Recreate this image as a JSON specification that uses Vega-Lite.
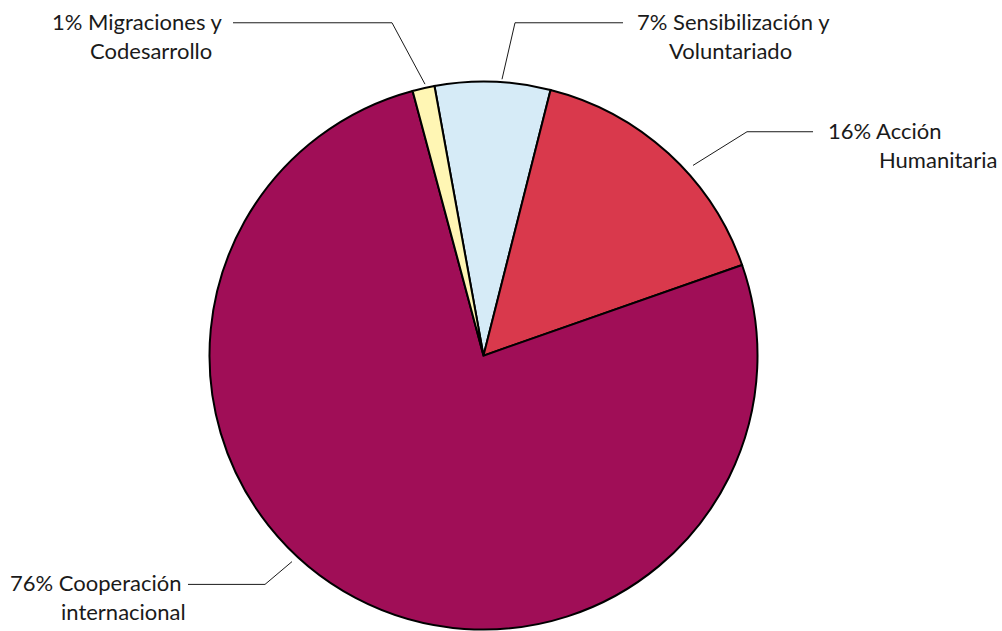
{
  "$schema": "https://vega.github.io/schema/vega-lite/v6.json",
  "width": 1002,
  "height": 631,
  "autosize": {"type": "fit", "contains": "padding"},
  "padding": 0,
  "background": "white",
  "config": {"view": {"stroke": null}},
  "datasets": {
    "slices": [
      {"category": "Sensibilización y Voluntariado", "value": 6.8, "ord": 1},
      {"category": "Acción Humanitaria", "value": 15.7, "ord": 2},
      {"category": "Cooperación internacional", "value": 76.2, "ord": 3},
      {"category": "Migraciones y Codesarrollo", "value": 1.3, "ord": 4}
    ],
    "labels": [
      {"text": "1% Migraciones y", "u": -1.5748, "v": 1.2007},
      {"text": "Codesarrollo", "u": -1.4361, "v": 1.0912},
      {"text": "7% Sensibilización y", "u": 0.5602, "v": 1.2007},
      {"text": "Voluntariado", "u": 0.6770, "v": 1.0912},
      {"text": "16% Acción", "u": 1.2573, "v": 0.7993},
      {"text": "Humanitaria", "u": 1.4434, "v": 0.6898},
      {"text": "76% Cooperación", "u": -1.7281, "v": -0.8686},
      {"text": "internacional", "u": -1.5420, "v": -0.9745}
    ],
    "leaders": [
      {"id": "m", "seq": 1, "u": -0.9142, "v": 1.2263},
      {"id": "m", "seq": 2, "u": -0.3339, "v": 1.2263},
      {"id": "m", "seq": 3, "u": -0.2135, "v": 1.0000},
      {"id": "s", "seq": 1, "u": 0.5091, "v": 1.2263},
      {"id": "s", "seq": 2, "u": 0.1150, "v": 1.2263},
      {"id": "s", "seq": 3, "u": 0.0675, "v": 1.0182},
      {"id": "a", "seq": 1, "u": 1.2026, "v": 0.8248},
      {"id": "a", "seq": 2, "u": 0.9617, "v": 0.8248},
      {"id": "a", "seq": 3, "u": 0.7646, "v": 0.7007},
      {"id": "c", "seq": 1, "u": -1.0785, "v": -0.8431},
      {"id": "c", "seq": 2, "u": -0.7974, "v": -0.8431},
      {"id": "c", "seq": 3, "u": -0.6989, "v": -0.7591}
    ]
  },
  "layer": [
    {
      "data": {"name": "slices"},
      "mark": {"type": "arc", "outerRadius": 274, "stroke": "#000000", "strokeWidth": 2},
      "encoding": {
        "x": {"datum": 0, "type": "quantitative", "scale": {"domain": [-1.7646, 1.8923], "nice": false, "zero": false}, "axis": null},
        "y": {"datum": 0, "type": "quantitative", "scale": {"domain": [-0.9927, 1.3102], "nice": false, "zero": false}, "axis": null},
        "theta": {"field": "value", "type": "quantitative", "stack": true, "scale": {"range": [-0.18, 6.1032]}},
        "order": {"field": "ord", "type": "quantitative"},
        "color": {
          "field": "category",
          "type": "nominal",
          "scale": {
            "domain": ["Sensibilización y Voluntariado", "Acción Humanitaria", "Cooperación internacional", "Migraciones y Codesarrollo"],
            "range": ["#D6EBF7", "#D9394C", "#A00E57", "#FFF6B4"]
          },
          "legend": null
        }
      }
    },
    {
      "data": {"name": "leaders"},
      "mark": {"type": "line", "stroke": "#1a1a1a", "strokeWidth": 1},
      "encoding": {
        "x": {"field": "u", "type": "quantitative", "scale": {"domain": [-1.7646, 1.8923], "nice": false, "zero": false}, "axis": null},
        "y": {"field": "v", "type": "quantitative", "scale": {"domain": [-0.9927, 1.3102], "nice": false, "zero": false}, "axis": null},
        "detail": {"field": "id", "type": "nominal"},
        "order": {"field": "seq", "type": "quantitative"}
      }
    },
    {
      "data": {"name": "labels"},
      "mark": {"type": "text", "font": "Lato", "fontSize": 22, "color": "#1a1a1a", "align": "left", "baseline": "alphabetic"},
      "encoding": {
        "x": {"field": "u", "type": "quantitative", "scale": {"domain": [-1.7646, 1.8923], "nice": false, "zero": false}, "axis": null},
        "y": {"field": "v", "type": "quantitative", "scale": {"domain": [-0.9927, 1.3102], "nice": false, "zero": false}, "axis": null},
        "text": {"field": "text", "type": "nominal"}
      }
    }
  ]
}
